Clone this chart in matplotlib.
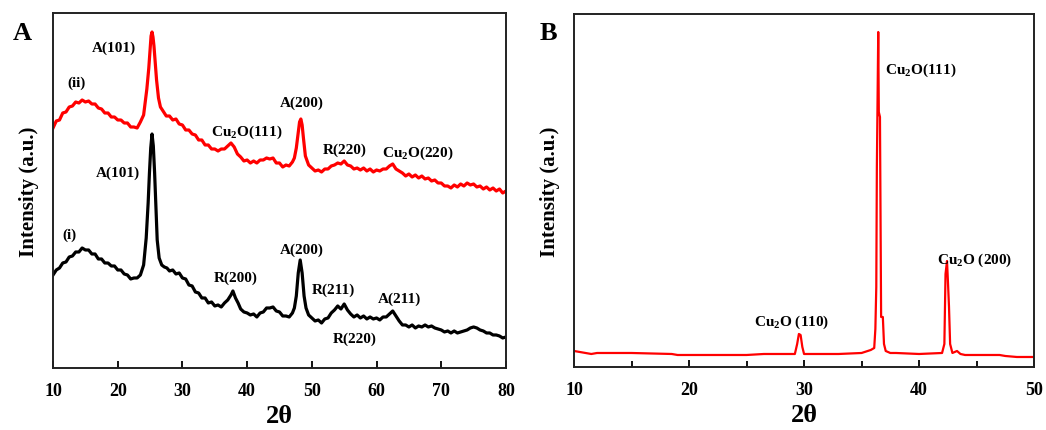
import matplotlib
matplotlib.use("Agg")
import matplotlib.pyplot as plt

plt.rcParams['font.family'] = ['Liberation Serif', 'DejaVu Serif']
plt.rcParams['font.weight'] = 'bold'
plt.rcParams['mathtext.default'] = 'regular'

# Panel A, curve (ii) red
a_red_x = [10, 10.5, 11, 11.5, 12, 12.5, 13, 13.5, 14, 14.5, 15, 15.5, 16, 16.5, 17, 17.5, 18, 18.5, 19, 19.5,
           20, 20.5, 21, 21.5, 22, 22.5, 23, 23.5, 24, 24.5, 24.8, 25.0, 25.15, 25.3, 25.45, 25.6, 25.8, 26, 26.3, 26.6,
           27, 27.5, 28, 28.5, 29, 29.5, 30, 30.5, 31, 31.5, 32, 32.5, 33, 33.5, 34, 34.5, 35, 35.5, 36, 36.5,
           37, 37.5, 38, 38.5, 39, 39.5, 40, 40.5, 41, 41.5, 42, 42.5, 43, 43.5, 44, 44.5, 45, 45.5, 46, 46.5,
           47, 47.3, 47.6, 47.9, 48.1, 48.3, 48.5, 48.7, 49, 49.5, 50, 50.5, 51, 51.5, 52, 52.5, 53, 53.5, 54, 54.5,
           55, 55.5, 56, 56.5, 57, 57.5, 58, 58.5, 59, 59.5, 60, 60.5, 61, 61.5, 62, 62.5, 63, 63.5, 64, 64.5,
           65, 65.5, 66, 66.5, 67, 67.5, 68, 68.5, 69, 69.5, 70, 70.5, 71, 71.5, 72, 72.5, 73, 73.5, 74, 74.5,
           75, 75.5, 76, 76.5, 77, 77.5, 78, 78.5, 79, 79.5, 80]
a_red_y = [240, 247, 248, 255, 256, 261, 262, 266, 265, 268, 266, 267, 264, 264, 260, 259, 255, 255, 251, 251,
           248, 248, 245, 245, 241, 241, 240, 246, 253, 279, 300, 318, 332, 336, 331, 322, 305, 288, 270, 261,
           257, 252, 252, 248, 249, 244, 243, 238, 238, 234, 233, 228, 228, 223, 223, 219, 219, 217, 219, 219,
           222, 225, 221, 214, 211, 207, 208, 205, 207, 205, 208, 208, 210, 209, 210, 205, 205, 201, 203, 202,
           206, 210, 220, 236, 246, 249, 243, 230, 212, 203, 200, 197, 198, 196, 199, 199, 202, 203, 205, 204,
           207, 203, 202, 199, 200, 198, 200, 197, 199, 196, 198, 197, 199, 199, 202, 204, 199, 197, 195, 192,
           194, 191, 193, 190, 192, 189, 190, 187, 188, 185, 185, 182, 182, 180, 183, 181, 184, 182, 185, 183,
           184, 181, 182, 179, 181, 178, 180, 177, 179, 175, 177]

# Panel A, curve (i) black
a_blk_x = [10, 10.5, 11, 11.5, 12, 12.5, 13, 13.5, 14, 14.5, 15, 15.5, 16, 16.5, 17, 17.5, 18, 18.5, 19, 19.5,
           20, 20.5, 21, 21.5, 22, 22.5, 23, 23.5, 24, 24.4, 24.7, 24.9, 25.1, 25.3, 25.5, 25.7, 25.9, 26.1, 26.4, 26.8,
           27.2, 27.6, 28, 28.5, 29, 29.5, 30, 30.5, 31, 31.5, 32, 32.5, 33, 33.5, 34, 34.5, 35, 35.5, 36, 36.5,
           37, 37.5, 37.8, 38.2, 38.6, 39, 39.5, 40, 40.5, 41, 41.5, 42, 42.5, 43, 43.5, 44, 44.5, 45, 45.5, 46,
           46.5, 47, 47.3, 47.6, 47.9, 48.2, 48.5, 48.8, 49.1, 49.5, 50, 50.5, 51, 51.5, 52, 52.5, 53, 53.5, 54, 54.5,
           55, 55.5, 56, 56.5, 57, 57.5, 58, 58.5, 59, 59.5, 60, 60.5, 61, 61.5, 62, 62.5, 63, 63.5, 64, 64.5,
           65, 65.5, 66, 66.5, 67, 67.5, 68, 68.5, 69, 69.5, 70, 70.5, 71, 71.5, 72, 72.5, 73, 73.5, 74, 74.5,
           75, 75.5, 76, 76.5, 77, 77.5, 78, 78.5, 79, 79.5, 80]
a_blk_y = [93, 98, 100, 105, 106, 111, 112, 116, 116, 120, 118, 118, 114, 114, 109, 109, 105, 105, 102, 102,
           98, 98, 94, 93, 89, 90, 90, 93, 103, 130, 165, 195, 220, 234, 222, 195, 160, 128, 110, 103,
           101, 100, 97, 98, 94, 95, 90, 89, 83, 82, 76, 75, 70, 70, 65, 66, 62, 63, 61, 65,
           68, 73, 77, 70, 65, 59, 56, 55, 53, 54, 51, 55, 56, 60, 60, 61, 57, 56, 52, 52,
           51, 55, 60, 72, 95, 108, 95, 72, 60, 53, 50, 47, 48, 45, 49, 50, 55, 58, 62, 59,
           64, 58, 54, 51, 53, 50, 52, 49, 51, 49, 50, 48, 51, 51, 54, 57, 52, 47, 43, 43,
           41, 43, 40, 42, 41, 43, 41, 42, 40, 39, 38, 36, 37, 35, 37, 35, 36, 37, 38, 40,
           41, 40, 38, 37, 35, 35, 33, 33, 32, 30, 31]

# Panel B, red
b_x = [10, 10.5, 11.5, 12, 15, 18.5, 19, 20, 25, 26.5, 27, 28, 29.2, 29.4, 29.55, 29.7, 29.85, 30, 31, 33,
       35, 35.8, 36.1, 36.2, 36.28, 36.33, 36.38, 36.45, 36.5, 36.6, 36.65, 36.7, 36.85, 36.95, 37.1, 37.5, 38, 40, 42, 42.2,
       42.3, 42.43, 42.5, 42.6, 42.7, 42.9, 43.3, 43.6, 44, 47, 47.5, 48.5, 50]
b_y = [16, 15, 13, 14, 14, 13, 12, 12, 12, 13, 13, 13, 13, 23, 33, 32, 20, 13, 13, 13,
       14, 17, 19, 38, 80, 200, 255, 335, 255, 250, 150, 50, 50, 23, 16, 14, 14, 13, 14, 23,
       93, 106, 88, 61, 23, 14, 16, 13, 12, 12, 11, 10, 10]

a_ticks = [10, 20, 30, 40, 50, 60, 70, 80]
b_ticks = [10, 20, 30, 40, 50]
b_minor = [15, 25, 35, 45]

a_labels = [("A(101)", 19.4, 321, 'center'), ("(ii)", 13.7, 286, 'center'), ("A(200)", 48.5, 266, 'center'),
            ("Cu$_2$O(111)", 40.0, 237, 'center'), ("R(220)", 55.1, 219, 'center'),
            ("Cu$_2$O(220)", 66.3, 216, 'center'), ("A(101)", 20.0, 196, 'center'), ("(i)", 12.6, 134, 'center'),
            ("R(200)", 38.3, 91, 'center'), ("A(200)", 48.5, 119, 'center'), ("R(211)", 53.4, 79, 'center'),
            ("A(211)", 63.6, 70, 'center'), ("R(220)", 56.7, 30, 'center')]
b_labels = [("Cu$_2$O(111)", 37.05, 298, 'left'), ("Cu$_2$O (110)", 28.96, 46, 'center'),
            ("Cu$_2$O (200)", 44.87, 108, 'center')]

fig = plt.figure(figsize=(10.46, 4.31), dpi=100)
axA = fig.add_axes([0.0507, 0.1439, 0.4330, 0.8236])
axB = fig.add_axes([0.5488, 0.1462, 0.4398, 0.8190])

axA.plot(a_red_x, a_red_y, color='#ff0000', lw=2.3)
axA.plot(a_blk_x, a_blk_y, color='#000000', lw=2.3)
axA.set_xlim(10, 80)
axA.set_ylim(0, 355)
axA.set_xticks(a_ticks)

axB.plot(b_x, b_y, color='#ff0000', lw=1.6)
axB.set_xlim(10, 50)
axB.set_ylim(0, 353)
axB.set_xticks(b_ticks)
axB.set_xticks(b_minor, minor=True)

for ax in (axA, axB):
    ax.set_yticks([])
    ax.tick_params(axis='x', direction='in', length=5, width=1.3, labelsize=13, pad=10)
    ax.tick_params(axis='x', which='minor', direction='in', length=4, width=1.3)
    for s in ax.spines.values():
        s.set_linewidth(1.4)
        s.set_color('#222222')
    ax.set_xlabel('2θ', fontsize=19, fontweight='bold', labelpad=4)
    ax.set_ylabel('Intensity (a.u.)', fontsize=15, fontweight='bold', labelpad=10)
    for lab in ax.get_xticklabels():
        lab.set_fontweight('bold')

for t, x, y, ha in a_labels:
    axA.text(x, y, t, ha=ha, va='center', fontsize=11, fontweight='bold')
for t, x, y, ha in b_labels:
    axB.text(x, y, t, ha=ha, va='center', fontsize=11, fontweight='bold')

fig.text(22/1046, 1 - 33/431, 'A', fontsize=19, fontweight='bold', ha='center', va='center')
fig.text(548/1046, 1 - 33/431, 'B', fontsize=19, fontweight='bold', ha='center', va='center')

fig.savefig('out.png', dpi=100)
